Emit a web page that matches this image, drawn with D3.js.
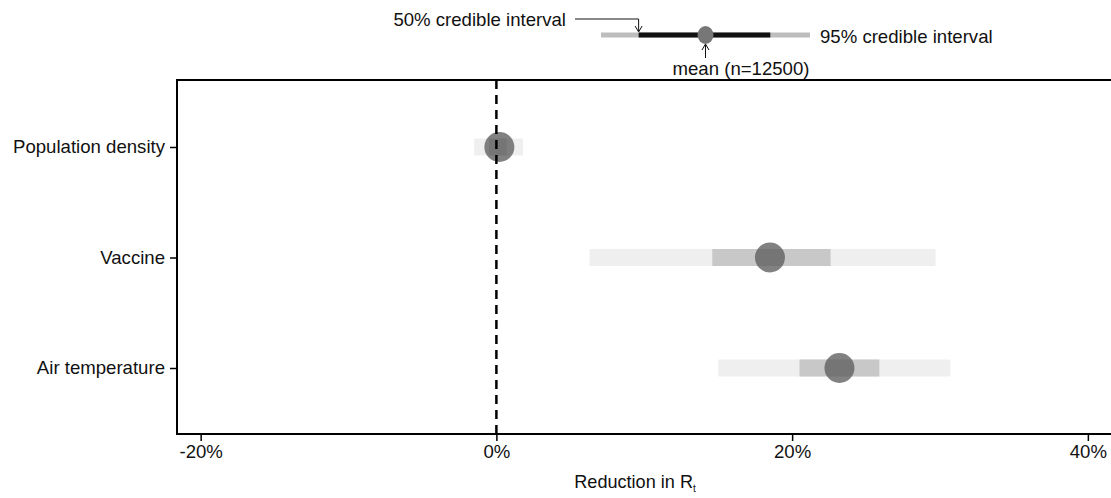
<!DOCTYPE html>
<html>
<head>
<meta charset="utf-8">
<script src="https://cdn.jsdelivr.net/npm/d3@7"></script>
<style>
  body { margin: 0; background: #fff; }
  svg text { font-family: "Liberation Sans", Arial, sans-serif; fill: #111; }
</style>
</head>
<body>
<div class="chart"></div>
<script>
const WIDTH = 1111;
const HEIGHT = 498;
const MARGIN = { top: 80, right: -2, bottom: 64, left: 177 };
const FONT = 18.6;

// data (percent reduction in Rt)
const categories = ['Population density', 'Vaccine', 'Air temperature'];
const means = [0.2, 18.5, 23.2];
const lo95 = [-1.5, 6.3, 15.0];
const hi95 = [1.8, 29.7, 30.7];
const lo50 = [-0.5, 14.6, 20.5];
const hi50 = [0.7, 22.6, 25.9];
const xTicks = [-20, 0, 20, 40];

const svg = d3
	.select('.chart')
	.append('svg')
	.attr('width', WIDTH)
	.attr('height', HEIGHT);

const x = d3
	.scaleLinear()
	.domain([-21.6, 41.7])
	.range([MARGIN.left, WIDTH - MARGIN.right]);

const y = d3
	.scalePoint()
	.domain(categories)
	.range([MARGIN.top + 67, HEIGHT - MARGIN.bottom - 66]);

const BAND = 17;

// intervals
const rows = svg.append('g').selectAll('g')
	.data(categories)
	.enter()
	.append('g');

rows.append('rect')
	.attr('x', (d, i) => x(lo95[i]))
	.attr('width', (d, i) => x(hi95[i]) - x(lo95[i]))
	.attr('y', d => y(d) - BAND / 2)
	.attr('height', BAND)
	.attr('fill', '#efefef');

rows.append('rect')
	.attr('x', (d, i) => x(lo50[i]))
	.attr('width', (d, i) => x(hi50[i]) - x(lo50[i]))
	.attr('y', d => y(d) - BAND / 2)
	.attr('height', BAND)
	.attr('fill', '#c8c8c8');

// zero line
svg.append('line')
	.attr('x1', x(0)).attr('x2', x(0))
	.attr('y1', MARGIN.top).attr('y2', HEIGHT - MARGIN.bottom)
	.attr('stroke', '#000')
	.attr('stroke-width', 2.5)
	.attr('stroke-dasharray', '9,6');

rows.append('circle')
	.attr('cx', (d, i) => x(means[i]))
	.attr('cy', d => y(d))
	.attr('r', 15)
	.attr('fill', '#5e5e5e')
	.attr('fill-opacity', 0.78);

// frame
svg.append('rect')
	.attr('x', MARGIN.left)
	.attr('y', MARGIN.top)
	.attr('width', WIDTH - MARGIN.right - MARGIN.left)
	.attr('height', HEIGHT - MARGIN.bottom - MARGIN.top)
	.attr('fill', 'none')
	.attr('stroke', '#000')
	.attr('stroke-width', 2);

// axes
const xAxis = d3.axisBottom(x)
	.tickValues(xTicks)
	.tickFormat(d => d + '%')
	.tickSize(7)
	.tickPadding(4);

const gx = svg.append('g')
	.attr('transform', `translate(0, ${HEIGHT - MARGIN.bottom})`)
	.call(xAxis);
gx.select('.domain').remove();
gx.selectAll('.tick line').attr('stroke', '#000').attr('stroke-width', 1.5);
gx.selectAll('.tick text').attr('font-size', FONT).attr('fill', '#111')
	.attr('font-family', '"Liberation Sans", Arial, sans-serif');

const yAxis = d3.axisLeft(y).tickSize(7).tickPadding(5);
const gy = svg.append('g')
	.attr('transform', `translate(${MARGIN.left}, 0)`)
	.call(yAxis);
gy.select('.domain').remove();
gy.selectAll('.tick line').attr('stroke', '#000').attr('stroke-width', 1.5);
gy.selectAll('.tick text').attr('font-size', FONT).attr('fill', '#111')
	.attr('font-family', '"Liberation Sans", Arial, sans-serif');

// axis title
const title = svg.append('text')
	.attr('x', (MARGIN.left + WIDTH - MARGIN.right) / 2 - 10)
	.attr('y', 488)
	.attr('text-anchor', 'middle')
	.attr('font-size', FONT - 0.5);
title.append('tspan').text('Reduction in R');
title.append('tspan').attr('font-size', 10).attr('dy', 4).text('t');

// legend key
const lg = d3.scaleLinear().domain([0, 1]).range([601, 810]);
const LY = 35;
svg.append('line')
	.attr('x1', lg(0)).attr('x2', lg(1)).attr('y1', LY).attr('y2', LY)
	.attr('stroke', '#bdbdbd').attr('stroke-width', 5);
svg.append('line')
	.attr('x1', lg(0.18)).attr('x2', lg(0.81)).attr('y1', LY).attr('y2', LY)
	.attr('stroke', '#111').attr('stroke-width', 5);
svg.append('ellipse')
	.attr('cx', lg(0.5)).attr('cy', LY).attr('rx', 8).attr('ry', 9)
	.attr('fill', '#777');

svg.append('text').attr('x', 566).attr('y', 26).attr('text-anchor', 'end')
	.attr('font-size', FONT).text('50% credible interval');
svg.append('text').attr('x', 820).attr('y', 43)
	.attr('font-size', FONT).text('95% credible interval');
svg.append('text').attr('x', 741).attr('y', 75).attr('text-anchor', 'middle')
	.attr('font-size', FONT).text('mean (n=12500)');

// legend arrows
svg.append('path')
	.attr('d', `M575,19 H${lg(0.18)} V31`)
	.attr('fill', 'none').attr('stroke', '#111').attr('stroke-width', 1);
svg.append('path')
	.attr('d', `M${lg(0.18) - 3.5},26 L${lg(0.18)},32 L${lg(0.18) + 3.5},26`)
	.attr('fill', 'none').attr('stroke', '#111').attr('stroke-width', 1);
svg.append('path')
	.attr('d', `M${lg(0.5)},58 V45 M${lg(0.5) - 3.5},50 L${lg(0.5)},44 L${lg(0.5) + 3.5},50`)
	.attr('fill', 'none').attr('stroke', '#111').attr('stroke-width', 1);
</script>
</body>
</html>
